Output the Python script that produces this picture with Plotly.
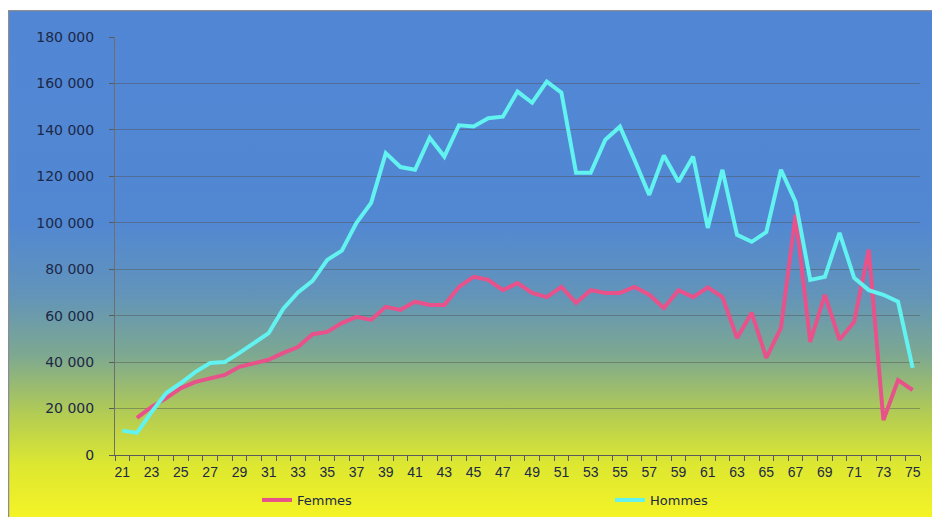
import base64
import plotly.graph_objects as go

ages = list(range(21, 76))

femmes = [None, 16000, 20700, 24500, 28800, 31500, 33000, 34500, 38000, 39600,
          41000, 44000, 46500, 52000, 53000, 56800, 59500, 58200, 63800, 62500,
          66000, 64600, 64600, 72400, 76700, 75400, 71000, 74000, 69800, 68000,
          72400, 65500, 71000, 69800, 69800, 72400, 69000, 63300, 71000, 68000,
          72200, 68000, 50400, 61200, 41800, 54700, 103400, 48700, 69000, 49600,
          57300, 88400, 15000, 32300, 28000]

hommes = [10500, 9500, 18500, 26700, 31000, 35800, 39600, 40000, 44000, 48000,
          52500, 63000, 70000, 75000, 84000, 88000, 100000, 108600, 130000, 124000,
          122800, 136600, 128500, 142000, 141500, 145000, 145700, 156500, 151700, 160800,
          156000, 121500, 121500, 135800, 141400, 127000, 112000, 129000, 117700, 128500,
          97800, 122800, 94800, 91800, 96000, 122800, 109000, 75400, 76700, 95700,
          76300, 71000, 69000, 66000, 37500]

x_labels = [str(a) for a in range(21, 76, 2)]
y_ticks = list(range(0, 180001, 20000))

# page body adds an 8px offset; figure sized to fill the rest of the window
W, H = 932, 509
L, R, T, B = 107, 20, 29, 62
pw, ph = W - L - R, H - T - B

# gradient background image (style only)
bx0, by0 = 0, 2
bw, bh = W - bx0, H - by0
svg = f'''<svg xmlns="http://www.w3.org/2000/svg" width="{bw}" height="{bh}" viewBox="0 0 {bw} {bh}" preserveAspectRatio="none">
<defs><linearGradient id="g" x1="0" y1="0" x2="0" y2="1">
<stop offset="0" stop-color="rgb(80,134,212)"/>
<stop offset="0.42" stop-color="rgb(82,136,210)"/>
<stop offset="0.56" stop-color="rgb(98,148,186)"/>
<stop offset="0.68" stop-color="rgb(125,168,145)"/>
<stop offset="0.80" stop-color="rgb(180,205,82)"/>
<stop offset="0.90" stop-color="rgb(222,232,48)"/>
<stop offset="1" stop-color="rgb(244,243,38)"/>
</linearGradient></defs>
<rect x="0" y="0" width="{bw}" height="{bh}" fill="url(#g)"/>
<line x1="0" y1="0.5" x2="{bw}" y2="0.5" stroke="rgb(140,140,150)" stroke-width="1.5"/>
<line x1="0.5" y1="0" x2="0.5" y2="{bh}" stroke="rgb(140,140,150)" stroke-width="1.5"/>
</svg>'''
uri = "data:image/svg+xml;base64," + base64.b64encode(svg.encode()).decode()

img_x = (bx0 - L) / pw
img_y = (H - B - by0) / ph
img_sx = bw / pw
img_sy = bh / ph

lab_col = "#1c2848"
y_font = dict(family="DejaVu Sans", size=14, color=lab_col)
x_font = dict(family="Liberation Sans, Arial, sans-serif", size=14, color=lab_col)
leg_font = dict(family="DejaVu Sans", size=13, color=lab_col)

fig = go.Figure()
fig.add_trace(go.Scatter(x=ages, y=femmes, mode="lines", name="Femmes",
                         line=dict(color="#e8528a", width=4), connectgaps=False,
                         legend="legend"))
fig.add_trace(go.Scatter(x=ages, y=hommes, mode="lines", name="Hommes",
                         line=dict(color="#62f2f0", width=4), legend="legend2"))

leg_y = (H - B - 492) / ph

fig.update_layout(
    width=W, height=H,
    margin=dict(l=L, r=R, t=T, b=B, autoexpand=False),
    paper_bgcolor="white",
    plot_bgcolor="rgba(0,0,0,0)",
    separators=", ",
    showlegend=True,
    images=[dict(source=uri, xref="paper", yref="paper", x=img_x, y=img_y,
                 sizex=img_sx, sizey=img_sy, xanchor="left", yanchor="top",
                 sizing="stretch", layer="below")],
    legend=dict(orientation="h", x=(249 - L) / pw, xanchor="left",
                y=leg_y, yanchor="middle", bgcolor="rgba(0,0,0,0)", font=leg_font),
    legend2=dict(orientation="h", x=(602 - L) / pw, xanchor="left",
                 y=leg_y, yanchor="middle", bgcolor="rgba(0,0,0,0)", font=leg_font),
    xaxis=dict(range=[20.5, 75.5], tickmode="array", tickvals=list(range(21, 76, 2)),
               ticktext=x_labels, ticks="", showgrid=False, zeroline=False,
               showline=True, linecolor="rgb(90,90,90)", linewidth=1,
               ticklabelstandoff=4,
               minor=dict(tick0=20.5, dtick=1, ticks="outside", ticklen=5,
                          tickcolor="rgb(90,90,90)", showgrid=False),
               tickfont=x_font),
    yaxis=dict(range=[0, 180000], tickmode="array", tickvals=y_ticks,
               tickformat=",d", ticks="outside", ticklen=5, tickcolor="rgb(90,90,90)",
               showgrid=True, gridcolor="rgba(80,80,80,0.45)", gridwidth=1,
               zeroline=False, showline=True, linecolor="rgb(110,110,110)",
               linewidth=1, ticklabelstandoff=12, tickfont=y_font),
)

fig.write_html("out.html")
